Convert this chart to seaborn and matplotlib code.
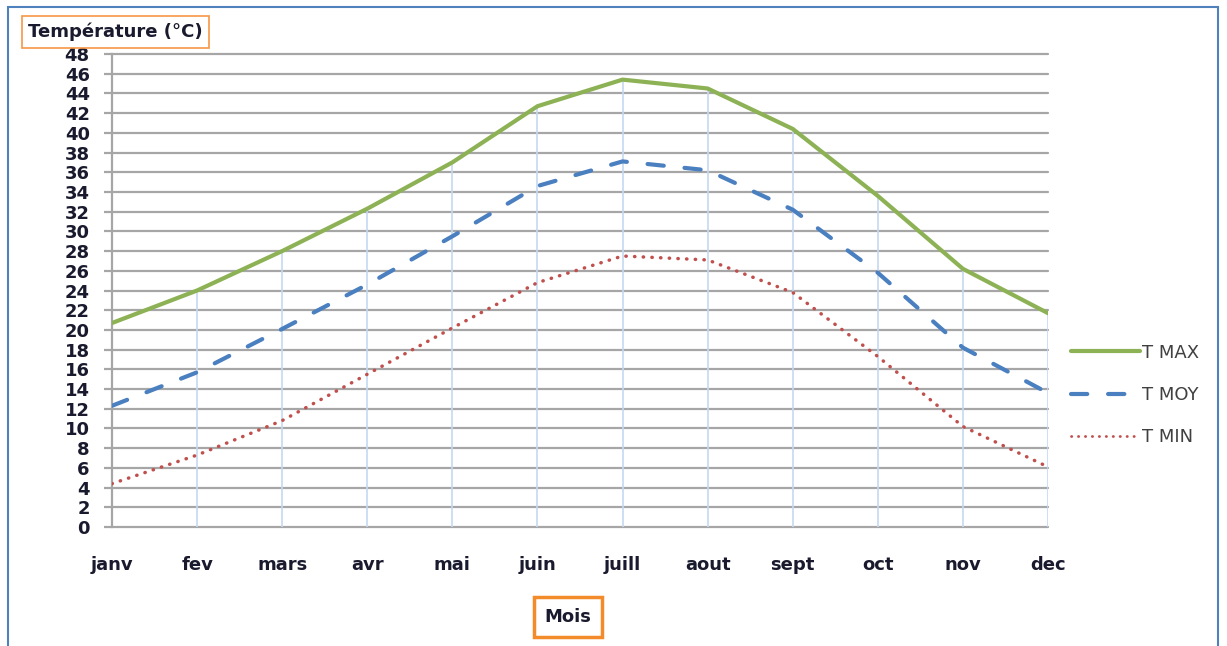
import matplotlib
matplotlib.use("Agg")
import matplotlib.pyplot as plt
import matplotlib.patches as mpatches
import seaborn as sns
import pandas as pd

months = ["janv", "fev", "mars", "avr", "mai", "juin", "juill", "aout", "sept", "oct", "nov", "dec"]
t_max = [20.7, 24.0, 28.0, 32.3, 37.0, 42.7, 45.4, 44.5, 40.4, 33.6, 26.2, 21.7]
t_moy = [12.3, 15.7, 20.1, 24.6, 29.5, 34.6, 37.1, 36.2, 32.2, 25.8, 18.2, 13.6]
t_min = [4.4, 7.3, 10.8, 15.5, 20.2, 24.8, 27.5, 27.1, 23.8, 17.3, 10.2, 6.1]
y_ticks = list(range(0, 49, 2))

sns.set_theme(style="white")
plt.rcParams["font.family"] = ["DejaVu Sans"]

W, H = 1227, 646
fig = plt.figure(figsize=(W / 100, H / 100), dpi=100)
ax = fig.add_axes([112 / W, 1 - 527 / H, (1048 - 112) / W, (527 - 54) / H])

idx = list(range(len(months)))
df = pd.DataFrame({"idx": idx, "T MAX": t_max, "T MOY": t_moy, "T MIN": t_min})

# horizontal grid
for y in y_ticks:
    ax.axhline(y, color="#a6a6a6", lw=1.6, zorder=1, clip_on=False)
# drop lines (from 0 to T MAX)
ax.vlines(df["idx"], 0, df["T MAX"], colors="#c6d9f1", lw=1.2, zorder=1)

sns.lineplot(data=df, x="idx", y="T MAX", ax=ax, color="#8db255", lw=3.0,
             label="T MAX", zorder=3)
sns.lineplot(data=df, x="idx", y="T MOY", ax=ax, color="#4a7fc0", lw=3.0,
             label="T MOY", zorder=3)
sns.lineplot(data=df, x="idx", y="T MIN", ax=ax, color="#c0504d", lw=2.5,
             label="T MIN", zorder=3)
lines = ax.get_lines()
lines[-2].set_dashes([3.9, 5.0])
lines[-2].set_dash_capstyle("round")
lines[-1].set_dashes([0.1, 2.4])
lines[-1].set_dash_capstyle("round")

ax.set_xlim(0, 11)
ax.set_ylim(0, 48)
ax.set_yticks(y_ticks)
ax.set_yticklabels([str(v) for v in y_ticks], fontsize=13, fontweight="bold", color="#1a1a2e")
ax.set_xticks(idx)
ax.set_xticklabels(months, fontsize=13, fontweight="bold", color="#1a1a2e")
ax.tick_params(axis="y", length=6, width=1.6, color="#a6a6a6", pad=10, left=True)
ax.tick_params(axis="x", length=0, pad=21)
ax.set_xlabel("")
ax.set_ylabel("")

for s in ["top", "right", "bottom"]:
    ax.spines[s].set_visible(False)
ax.spines["left"].set_color("#a6a6a6")
ax.spines["left"].set_linewidth(1.6)

leg = ax.legend(loc="center left", bbox_to_anchor=(1055 / W, 1 - 395 / H),
                bbox_transform=fig.transFigure, frameon=False, fontsize=13,
                handlelength=3.8, handletextpad=0.1, labelspacing=1.35)
for t in leg.get_texts():
    t.set_color("#404040")
for h in leg.get_lines():
    if h.get_label() == "T MIN":
        h.set_linewidth(2.0)

fig.text(28 / W, 1 - 32 / H, "Température (°C)", fontsize=13, fontweight="bold",
         color="#1a1a2e", ha="left", va="center",
         bbox=dict(boxstyle="square,pad=0.35", fc="white", ec="#f79646", lw=1.2))
fig.text(568 / W, 1 - 617 / H, "Mois", fontsize=13, fontweight="bold",
         color="#1a1a2e", ha="center", va="center",
         bbox=dict(boxstyle="square,pad=0.6", fc="white", ec="#f38b2a", lw=2.5))

fig.patches.append(mpatches.Rectangle((8 / W, -0.05), (1218 - 8) / W, 1 - 7 / H + 0.05,
                                      transform=fig.transFigure, fill=False,
                                      ec="#4f81bd", lw=1.5))

fig.savefig("out.png", dpi=100, facecolor="white")
